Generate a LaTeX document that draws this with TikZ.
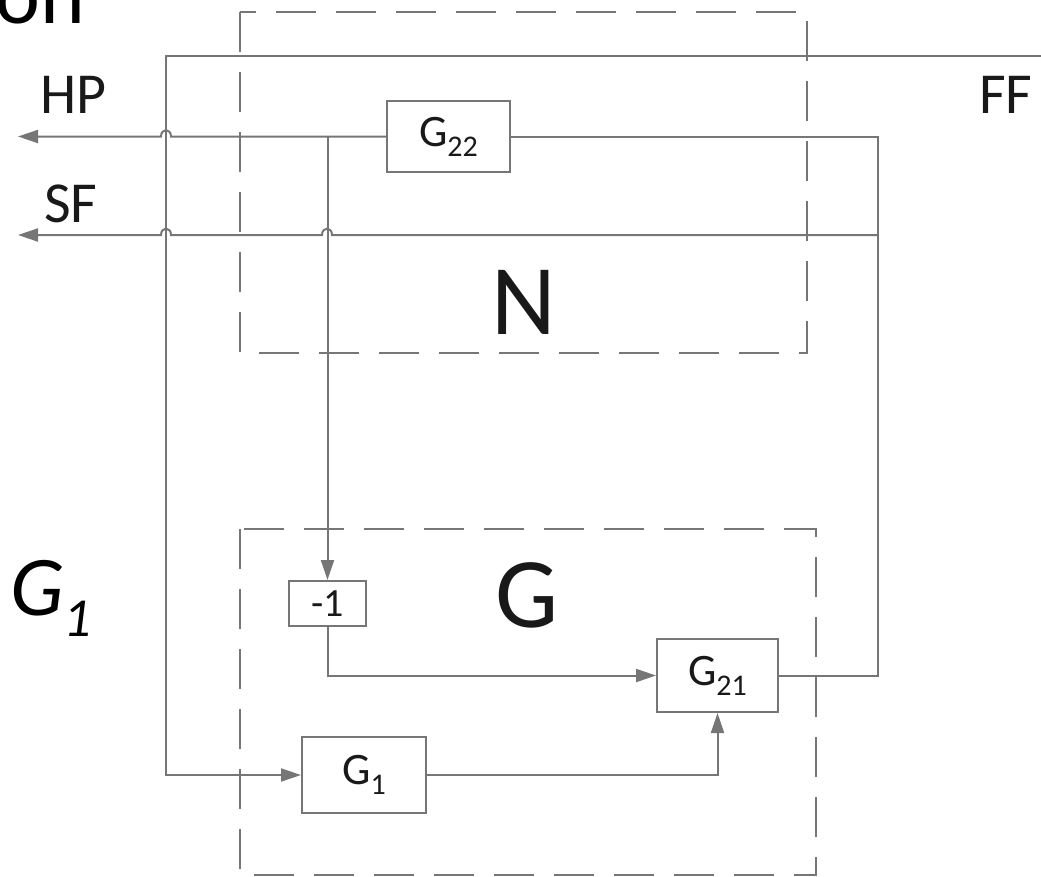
\documentclass[tikz,border=0pt]{standalone}
\usepackage{fontspec}
\setmainfont{Carlito}
\usetikzlibrary{arrows.meta}
\definecolor{lngray}{RGB}{118,118,118}
\definecolor{txt}{RGB}{25,25,25}
\newcommand{\sbx}[1]{\raisebox{-0.22em}{\fontsize{30}{30}\selectfont #1}}
\begin{document}
\begin{tikzpicture}[x=1pt,y=-1pt,
  ln/.style={draw=lngray,line width=2pt},
  arr/.style={ln,-{Triangle[length=20pt,width=13pt]}},
  dsh/.style={draw=lngray,line width=2pt,dash pattern=on 40pt off 20pt},
  blk/.style={draw=lngray,line width=2pt,fill=white,inner sep=0pt,text=txt,font=\fontsize{45}{45}\selectfont},
  lbl/.style={inner sep=0pt,text=txt}]
\useasboundingbox (0,0) rectangle (1041,876);
% dashed boxes
\draw[dsh] (240,12) rectangle (807,353);
\draw[dsh] (240,529) rectangle (816,875);
% blocks
\node[blk,minimum width=123pt,minimum height=71pt] (g22) at (448.5,136.5) {G\sbx{22}};
\node[blk,minimum width=77pt,minimum height=45pt,font=\fontsize{40}{40}\selectfont] (m1) at (327.5,603.5) {-1};
\node[blk,minimum width=121pt,minimum height=73pt] (g21) at (717.5,675.5) {G\sbx{21}};
\node[blk,minimum width=124pt,minimum height=76pt] (g1) at (364,775) {G\sbx{1}};
% coordinates
\coordinate (ff) at (1041,56);
\coordinate (c1) at (166,56);
\coordinate (hp) at (18,136.5);
\coordinate (sf) at (18,235);
\coordinate (c2) at (878,136.5);
\coordinate (c3) at (878,235);
\coordinate (tap) at (m1.north |- g22.west);
% connectors
\draw[arr] (ff) -- (c1) |- (g1.west);
\draw[arr] (g22.west) -- (171,136.5) .. controls (171,128) and (161,128) .. (161,136.5) -- (hp);
\draw[arr] (tap) -- (m1.north);
\draw[ln] (g22.east) -- (c2) |- (g21.east);
\draw[arr] (c3) -- (332,235) .. controls (332,226.5) and (322,226.5) .. (322,235)
  -- (171,235) .. controls (171,226.5) and (161,226.5) .. (161,235) -- (sf);
\draw[arr] (m1.south) |- (g21.west);
\draw[arr] (g1.east) -| (g21.south);
% labels
\node[lbl,anchor=base west,font=\fontsize{58}{58}\selectfont] (lhp) at (40,113) {HP};
\node[lbl,anchor=base west,font=\fontsize{58}{58}\selectfont] (lsf) at (44,222) {SF};
\node[lbl,anchor=base west,font=\fontsize{58}{58}\selectfont] (lff) at (979,113) {FF};
\node[lbl,anchor=base,font=\fontsize{100}{100}\selectfont] (ln) at (524,334) {N};
\node[lbl,anchor=base,font=\fontsize{100}{100}\selectfont] (lg) at (527,627) {G};
\node[lbl,anchor=base west,font=\fontsize{85}{85}\selectfont\itshape,text=black] (lg1) at (10,615) {G\raisebox{-0.25em}{\fontsize{55}{55}\selectfont\itshape 1}};
\node[lbl,anchor=base east,font=\fontsize{85}{85}\selectfont,text=black] (lon) at (85,23) {on};
\end{tikzpicture}
\end{document}
